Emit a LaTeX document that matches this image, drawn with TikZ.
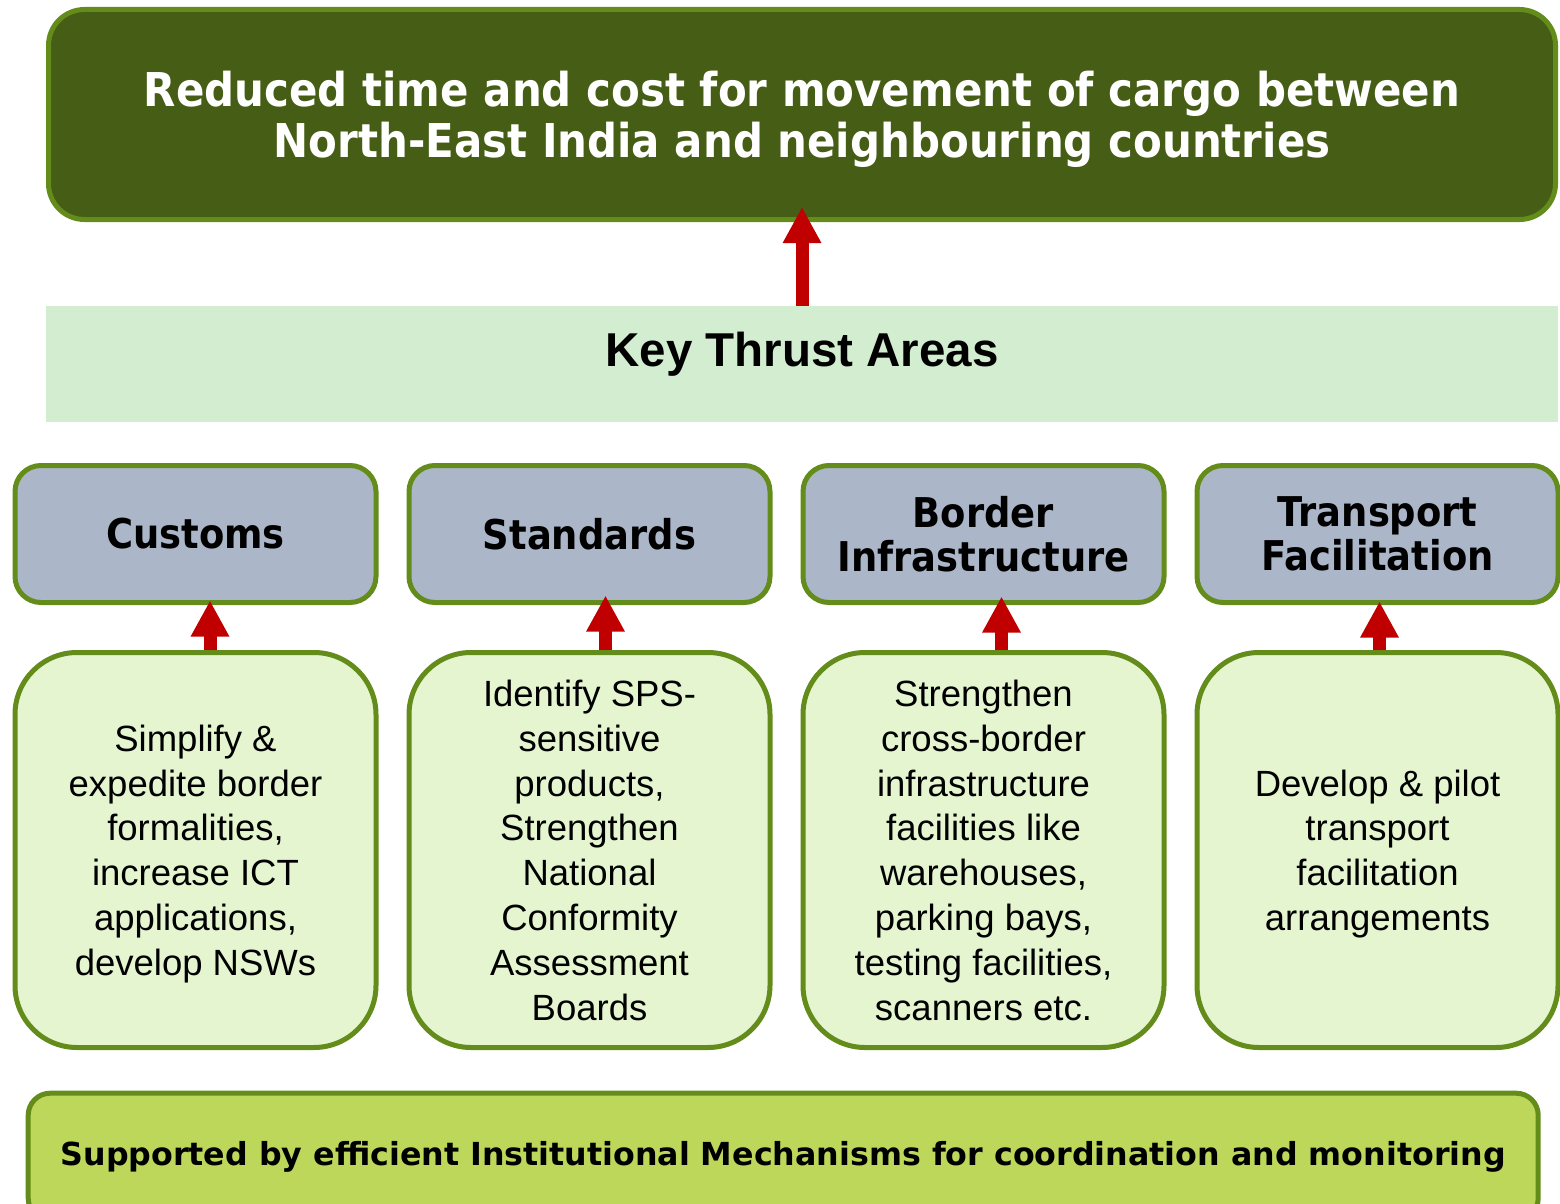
\documentclass[tikz,border=0pt]{standalone}
\usepackage{fontspec}
\setmainfont{Liberation Sans}
\newfontfamily\boldface{DejaVu Sans}[FakeStretch=0.9]
\newfontfamily\baseface{DejaVu Sans}
\usetikzlibrary{arrows.meta}
\definecolor{goalgreen}{HTML}{455D15}
\definecolor{edgegreen}{HTML}{648C1A}
\definecolor{bandgreen}{HTML}{D3EDD1}
\definecolor{areablue}{HTML}{ABB6C8}
\definecolor{actgreen}{HTML}{E5F5D0}
\definecolor{basegreen}{HTML}{BDD75A}
\definecolor{arrowred}{HTML}{C00000}

\begin{document}
\begin{tikzpicture}[x=1pt,y=-1pt,
	goal/.style={draw=edgegreen,fill=goalgreen,line width=5pt,rounded corners=36pt,minimum width=1507pt,minimum height=210pt,inner sep=0pt,align=center,text depth=0pt,text=white,font=\boldface\bfseries\fontsize{46.6}{51}\selectfont},
	band/.style={fill=bandgreen,minimum width=1512pt,minimum height=116pt,inner sep=0pt,font=\bfseries\fontsize{47.5}{55}\selectfont,execute at end node={\rule[-30pt]{0pt}{30pt}}},
	area/.style={draw=edgegreen,fill=areablue,line width=5pt,rounded corners=26pt,minimum width=361pt,minimum height=137pt,inner sep=0pt,align=center,font=\boldface\bfseries\fontsize{41}{44}\selectfont},
	act/.style={draw=edgegreen,fill=actgreen,line width=5pt,rounded corners=62pt,minimum width=361pt,minimum height=395pt,inner sep=0pt,align=center,text depth=0pt,font=\fontsize{36.5}{44.8}\selectfont},
	base/.style={draw=edgegreen,fill=basegreen,line width=5pt,rounded corners=22pt,minimum width=1510pt,minimum height=127pt,inner sep=0pt,font=\baseface\bfseries\fontsize{31.7}{38}\selectfont},
	pusharrow/.style={draw=arrowred,line width=13pt,-{Triangle[width=36pt,length=36pt]}}]
	\useasboundingbox (0,0) rectangle (1560,1204);
	\node[goal] (goal) at (802,114.5) {Reduced time and cost for movement of cargo between\\North-East India and neighbouring countries};
	\node[band] (kta) at (802,364) {Key Thrust Areas};
	\node[area] (customs) at (195.5,534) {Customs};
	\node[area] (standards) at (589.5,534) {Standards};
	\node[area] (border) at (983.5,534) {Border\\Infrastructure};
	\node[area] (transport) at (1377.5,534) {Transport\\Facilitation};
	\node[act] (simplify) at (195.5,850) {Simplify \&\\expedite border\\formalities,\\increase ICT\\applications,\\develop NSWs};
	\node[act] (identify) at (589.5,850) {Identify SPS-\\sensitive\\products,\\Strengthen\\National\\Conformity\\Assessment\\Boards};
	\node[act] (strengthen) at (983.5,850) {Strengthen\\cross-border\\infrastructure\\facilities like\\warehouses,\\parking bays,\\testing facilities,\\scanners etc.};
	\node[act] (develop) at (1377.5,850) {Develop \& pilot\\transport\\facilitation\\arrangements};
	\node[base] (support) at (783.2,1156.7) {Supported by efficient Institutional Mechanisms for coordination and monitoring};
	\draw[pusharrow] (kta.north) -- ([yshift=15pt]goal.south);
	\draw[pusharrow] ([xshift=14.5pt]simplify.north) -- ([xshift=14.5pt,yshift=4.5pt]customs.south);
	\draw[pusharrow] ([xshift=16pt]identify.north) -- ([xshift=16pt,yshift=9.5pt]standards.south);
	\draw[pusharrow] ([xshift=18pt]strengthen.north) -- ([xshift=18pt,yshift=8.5pt]border.south);
	\draw[pusharrow] ([xshift=2pt]develop.north) -- ([xshift=2pt,yshift=3.5pt]transport.south);
\end{tikzpicture}
\end{document}
